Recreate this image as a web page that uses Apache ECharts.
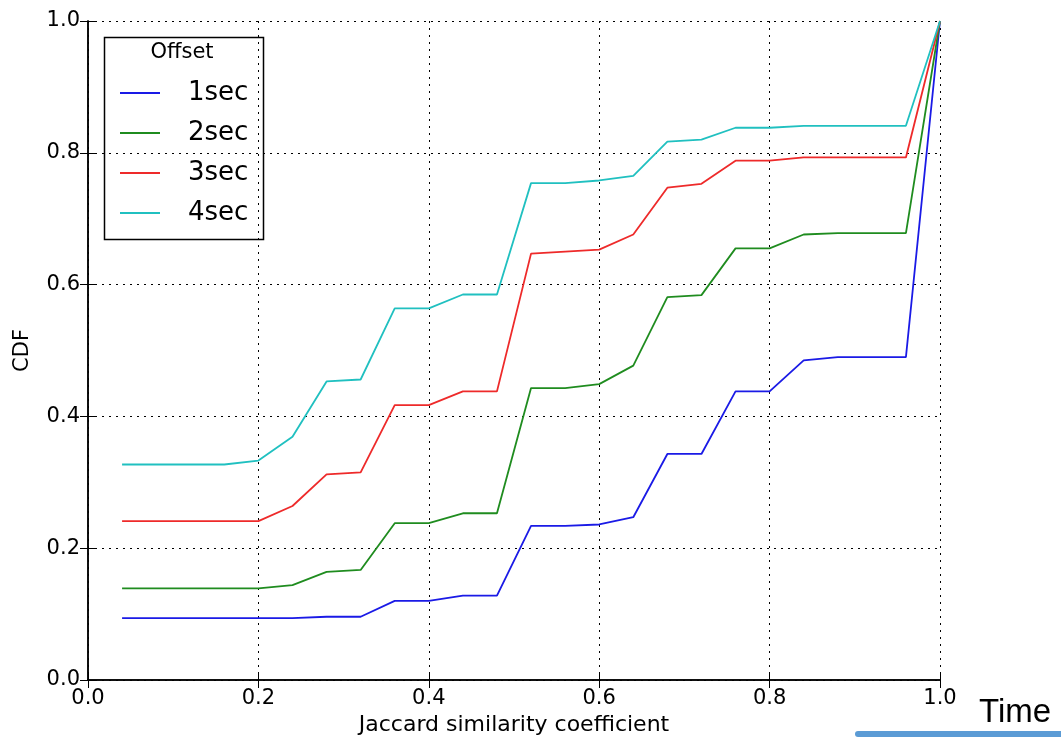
<!DOCTYPE html>
<html>
<head>
<meta charset="utf-8">
<script src="https://cdn.jsdelivr.net/npm/echarts@6/dist/echarts.min.js"></script>
<style>html,body{margin:0;padding:0;background:#fff;}#c{width:1061px;height:743px;}</style>
</head>
<body>
<div id="c"></div>
<script>
const xValues = [0.04,0.08,0.12,0.16,0.20,0.24,0.28,0.32,0.36,0.40,0.44,0.48,0.52,0.56,0.60,0.64,0.68,0.72,0.76,0.80,0.84,0.88,0.92,0.96,1.00];
const seriesNames = ['1sec','2sec','3sec','4sec'];
const cdf1 = [0.094,0.094,0.094,0.094,0.094,0.094,0.096,0.096,0.120,0.120,0.128,0.128,0.234,0.234,0.236,0.247,0.343,0.343,0.438,0.438,0.485,0.490,0.490,0.490,1.0];
const cdf2 = [0.139,0.139,0.139,0.139,0.139,0.144,0.164,0.167,0.238,0.238,0.253,0.253,0.443,0.443,0.449,0.477,0.581,0.584,0.655,0.655,0.676,0.678,0.678,0.678,1.0];
const cdf3 = [0.241,0.241,0.241,0.241,0.241,0.264,0.312,0.315,0.417,0.417,0.438,0.438,0.647,0.650,0.653,0.676,0.747,0.753,0.788,0.788,0.793,0.793,0.793,0.793,1.0];
const cdf4 = [0.327,0.327,0.327,0.327,0.333,0.369,0.453,0.456,0.564,0.564,0.585,0.585,0.754,0.754,0.758,0.765,0.817,0.820,0.838,0.838,0.841,0.841,0.841,0.841,1.0];
const xTickLabels = ['0.0','0.2','0.4','0.6','0.8','1.0'];
const yTickLabels = ['0.0','0.2','0.4','0.6','0.8','1.0'];
const colors = ['#1a1ae6','#1f8c1f','#ee2a2a','#20c0c0'];

const allData = [cdf1, cdf2, cdf3, cdf4];
const font = 'DejaVu Sans';
const chart = echarts.init(document.getElementById('c'), null, {renderer:'canvas'});

function pairs(arr){ return xValues.map((x,i)=>[x, arr[i]]); }

const baseAxis = {
  type:'value', min:0, max:1, interval:0.2,
  axisLine:{show:true, lineStyle:{color:'#000', width:1.5}},
  axisTick:{show:true, inside:true, length:8, lineStyle:{color:'#000', width:1}},
  splitLine:{show:false}
};

chart.setOption({
  animation:false,
  backgroundColor:'#fff',
  grid:{left:88, right:121, top:21, bottom:63, containLabel:false},
  xAxis:[
    Object.assign({}, baseAxis, {
      position:'bottom',
      name:'Jaccard similarity coefficient', nameLocation:'middle', nameGap:34,
      nameTextStyle:{fontFamily:font, fontSize:22, color:'#000'},
      axisLabel:{show:true, margin:8, fontFamily:font, fontSize:21, color:'#000',
        formatter:(v)=>xTickLabels[Math.round(v/0.2)]},
      splitLine:{show:true, lineStyle:{color:'#000', type:[2,5], width:1}}
    }),
    Object.assign({}, baseAxis, {position:'top', axisLabel:{show:false}})
  ],
  yAxis:[
    Object.assign({}, baseAxis, {
      position:'left',
      name:'CDF', nameLocation:'middle', nameGap:55,
      nameTextStyle:{fontFamily:font, fontSize:21, color:'#000'},
      axisLabel:{show:true, margin:8, fontFamily:font, fontSize:21, color:'#000',
        formatter:(v)=>yTickLabels[Math.round(v/0.2)]},
      splitLine:{show:true, lineStyle:{color:'#000', type:[2,5], width:1}}
    }),
    Object.assign({}, baseAxis, {position:'right', axisLabel:{show:false}})
  ],
  legend:{
    show:true, orient:'vertical', left:120, top:80, padding:0,
    itemWidth:40, itemHeight:22, itemGap:14,
    icon:'path://M0,10 L40,10 L40,12 L0,12 Z',
    data:seriesNames,
    textStyle:{fontFamily:font, fontSize:26, color:'#000', lineHeight:22, padding:[0,0,0,23]}
  },
  graphic:[
    {type:'rect', left:102, top:35, z:100, silent:true,
      shape:{width:159, height:202}, style:{fill:'none', stroke:'#000', lineWidth:1.5}},
    {type:'text', z:101, silent:true,
      style:{text:'Offset', x:182, y:53, align:'center', verticalAlign:'middle', fontFamily:font, fontSize:21, fill:'#000'}},
    {type:'line', z:100, silent:true,
      shape:{x1:858, y1:734, x2:1064, y2:734},
      style:{stroke:'#5b9bd5', lineWidth:6, lineCap:'round'}},
    {type:'text', z:100, silent:true,
      style:{text:'Time', x:979, y:713, align:'left', verticalAlign:'middle', fontFamily:'Liberation Sans', fontSize:33, fill:'#000'}}
  ],
  series: allData.map((d,i)=>({
    name:seriesNames[i], type:'line', data:pairs(d), xAxisIndex:0, yAxisIndex:0,
    symbol:'none', showSymbol:false, smooth:false,
    lineStyle:{color:colors[i], width:1.8}, itemStyle:{color:colors[i]}, z:3
  }))
});
</script>
</body>
</html>
